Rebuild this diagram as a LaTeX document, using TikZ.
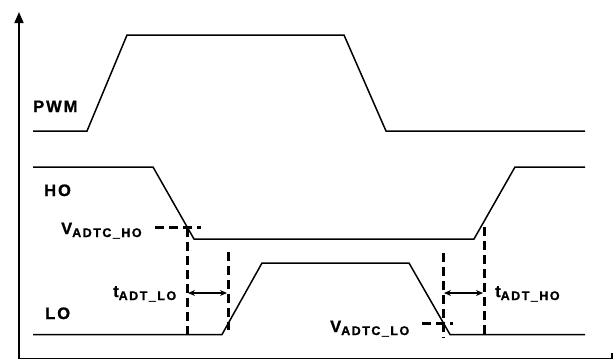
\documentclass[tikz,border=0pt]{standalone}
\usepackage{fontspec}
\setmainfont{Liberation Sans}[LetterSpace=12,BoldFeatures={FakeBold=1.2}]
\usetikzlibrary{arrows.meta}
\newcommand{\sig}[2]{#1\raisebox{-3pt}{\fontsize{12.5}{12.5}\selectfont #2}}
\begin{document}
\begin{tikzpicture}[x=1pt,y=-1pt,
  wave/.style={line width=1.5pt,line join=miter},
  axis/.style={line width=1.6pt},
  dimline/.style={line width=3pt,dash pattern=on 9pt off 5pt},
  meas/.style={line width=1.3pt,{Stealth[length=7pt,width=6pt]}-{Stealth[length=7pt,width=6pt]}},
  lbl/.style={font=\fontsize{16.5}{16.5}\selectfont\bfseries,inner sep=0pt,anchor=base west}]
\useasboundingbox (0,0) rectangle (613,360);
% axes
\coordinate (o) at (19,358.5);
\coordinate (ytop) at (19,12);
\coordinate (xend) at (612,358.5);
\coordinate (xtick) at (612,353);
\draw[axis,-{Triangle[length=11pt,width=9pt]}] (o) -- (ytop);
\draw[axis] (o) -- (xend) -- (xtick);
% PWM
\draw[wave] (33,131) coordinate (p0) -- (87,131) coordinate (p1) -- (127,35) coordinate (p2)
  -- (344,35) coordinate (p3) -- (386,131) coordinate (p4) -- (585,131) coordinate (p5);
% HO
\draw[wave] (33,167) coordinate (h0) -- (153,167) coordinate (h1) -- (194,239) coordinate (h2)
  -- (474,239) coordinate (h3) -- (515,167) coordinate (h4) -- (585,167) coordinate (h5);
% LO
\draw[wave] (33,334.5) coordinate (l0) -- (222,334.5) coordinate (l1) -- (262,263) coordinate (l2)
  -- (409,263) coordinate (l3) -- (450,334.5) coordinate (l4) -- (585,334.5) coordinate (l5);
% labels
\node[lbl] (pwm) at (33,112) {PWM};
\node[lbl] (ho) at (44,196) {HO};
\node[lbl] (lo) at (45,319) {LO};
% left dimension
\coordinate (vh1) at (155,227);
\coordinate (vh2) at (201,227);
\draw[dimline] (vh1) -- (vh2);
\coordinate (d1t) at (187,228);
\coordinate (d1b) at (187,334);
\draw[dimline] (d1t) -- (d1b);
\coordinate (d2t) at (228,252);
\coordinate (d2b) at (228,330);
\draw[dimline] (d2t) -- (d2b);
\coordinate (a1) at (188,293);
\coordinate (a2) at (227,293);
\draw[meas] (a1) -- (a2);
\node[lbl] (vadtcho) at (61,234) {\sig{V}{ADTC\_HO}};
\node[lbl] (tadtlo) at (113,297) {\sig{t}{ADT\_LO}};
% right dimension
\coordinate (d3t) at (443,253);
\coordinate (d3b) at (443,338);
\draw[dimline] (d3t) -- (d3b);
\coordinate (d4t) at (484,227);
\coordinate (d4b) at (484,334);
\draw[dimline] (d4t) -- (d4b);
\coordinate (vl1) at (422,323);
\coordinate (vl2) at (453,323);
\draw[dimline] (vl1) -- (vl2);
\coordinate (a3) at (444,293);
\coordinate (a4) at (483,293);
\draw[meas] (a3) -- (a4);
\node[lbl] (vadtclo) at (330,332) {\sig{V}{ADTC\_LO}};
\node[lbl] (tadtho) at (495,297) {\sig{t}{ADT\_HO}};
\end{tikzpicture}
\end{document}
